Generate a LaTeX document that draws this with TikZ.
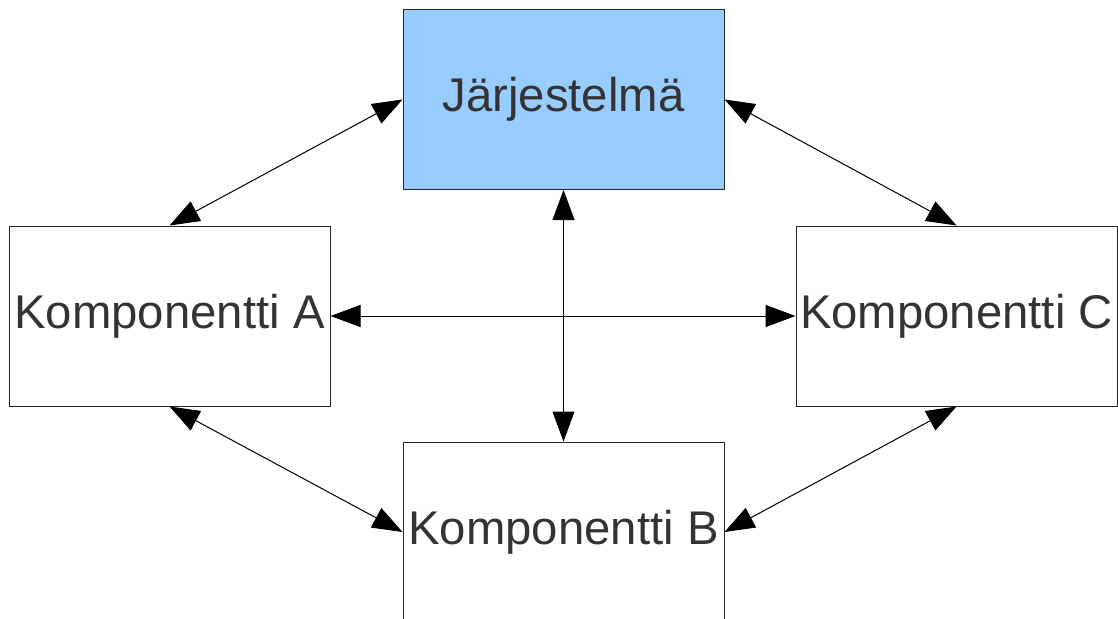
\documentclass[tikz,border=0pt]{standalone}
\usepackage{fontspec}
\setmainfont{Liberation Sans}
\usetikzlibrary{arrows.meta}
\definecolor{boxblue}{HTML}{99CCFF}
\definecolor{txt}{HTML}{333333}
\begin{document}
\begin{tikzpicture}[x=1pt,y=-1pt,
  comp/.style={draw=black!85, line width=1pt, minimum width=321pt, minimum height=180pt, inner sep=0pt, text=txt, font=\fontsize{47.3}{56}\selectfont},
  link/.style={draw=black, line width=1pt, {Triangle[length=30pt,width=22pt]}-{Triangle[length=30pt,width=22pt]}}]
\useasboundingbox (0,0) rectangle (1118,618);
\clip (0,0) rectangle (1118,618);
\node[comp, fill=boxblue] (J) at (563.5,99.5) {Järjestelmä};
\node[comp] (A) at (169.5,316) {Komponentti A};
\node[comp] (C) at (956.5,316) {Komponentti C};
\node[comp] (B) at (563.5,532) {Komponentti B};
\draw[link] (J.west) -- (A.north);
\draw[link] (J.east) -- (C.north);
\draw[link] (J.south) -- (B.north);
\draw[link] (A.east) -- (C.west);
\draw[link] (A.south) -- (B.west);
\draw[link] (C.south) -- (B.east);
\end{tikzpicture}
\end{document}
